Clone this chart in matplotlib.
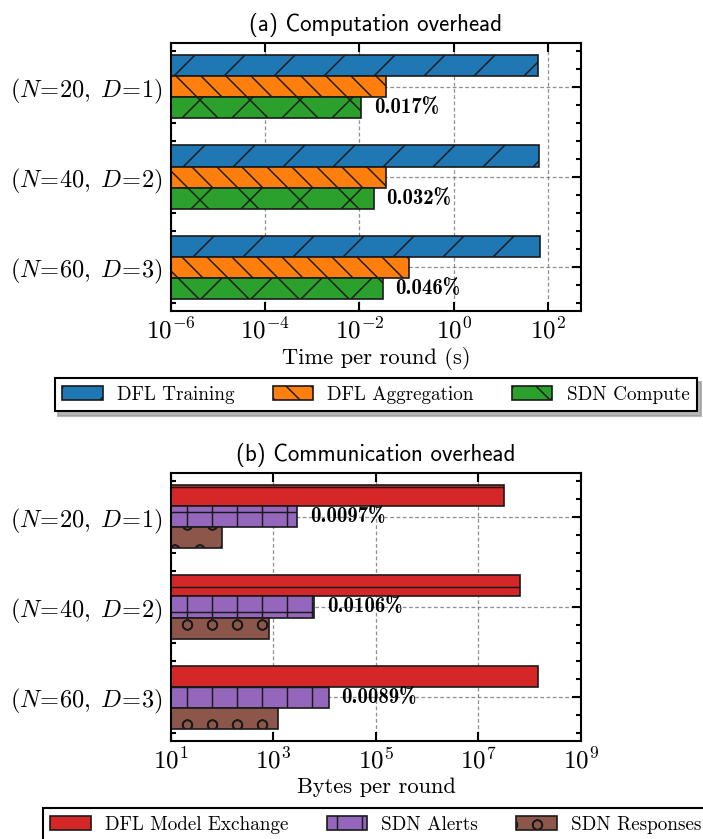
import numpy as np
import matplotlib
matplotlib.use("Agg")
import matplotlib.pyplot as plt
from matplotlib.ticker import FixedLocator, NullLocator, AutoMinorLocator, FuncFormatter

# --- datos ---
grupos = [r'$(N\!=\!20,\;D\!=\!1)$', r'$(N\!=\!40,\;D\!=\!2)$', r'$(N\!=\!60,\;D\!=\!3)$']

# (a) tiempo por ronda (s)
dfl_training = [62.0, 63.0, 66.0]
dfl_aggregation = [0.037, 0.036, 0.11]
sdn_compute = [0.011, 0.020, 0.031]
pct_compute = ['0.017%', '0.032%', '0.046%']

# (b) bytes por ronda
dfl_exchange = [3.1e7, 6.6e7, 1.45e8]
sdn_alerts = [2900, 6300, 12000]
sdn_responses = [97, 805, 1210]
pct_comm = ['0.0097%', '0.0106%', '0.0089%']

plt.rcParams['font.family'] = 'serif'
plt.rcParams['font.serif'] = ['cmr10']
plt.rcParams['mathtext.fontset'] = 'cm'
plt.rcParams['axes.formatter.use_mathtext'] = True
plt.rcParams['hatch.linewidth'] = 0.35
plt.rcParams['axes.linewidth'] = 0.5

fig = plt.figure(figsize=(703 / 300, 839 / 300), dpi=300)
ax1 = fig.add_axes([0.2432, 0.6293, 0.5832, 0.3194])
ax2 = fig.add_axes([0.2432, 0.1168, 0.5832, 0.3194])

y = np.arange(len(grupos))
h = 0.7 / 3


def estilo(ax, xlim, xticks, xlabel, title):
    ax.set_xscale('log')
    ax.set_xlim(*xlim)
    ax.invert_yaxis()
    ax.set_yticks(y)
    ax.set_yticklabels(grupos, fontsize=5.85)
    ax.yaxis.set_minor_locator(AutoMinorLocator(5))
    ax.xaxis.set_major_locator(FixedLocator(xticks))
    ax.xaxis.set_minor_locator(NullLocator())
    ax.xaxis.set_major_formatter(FuncFormatter(lambda v, p: r'$10^{%d}$' % round(np.log10(v))))
    ax.tick_params(axis='x', labelsize=6, pad=1.5)
    ax.tick_params(axis='y', pad=2)
    ax.tick_params(which='both', direction='in', top=True, right=True, width=0.5)
    ax.tick_params(which='major', length=2.2)
    ax.tick_params(which='minor', length=1.1)
    ax.grid(True, which='major', linestyle=(0, (3, 2)), linewidth=0.3, color='0.45', alpha=0.8)
    ax.set_axisbelow(True)
    ax.set_xlabel(xlabel, fontsize=5.4, labelpad=1)
    ax.set_title(title, fontfamily='cmss10', fontsize=5.5, pad=3)


def leyenda(ax):
    leg = ax.legend(loc='upper center', bbox_to_anchor=(0.5, -0.25), ncol=3, fontsize=4.6,
                    frameon=True, fancybox=False, edgecolor='black', framealpha=1,
                    shadow={'ox': 0.9, 'oy': -1.0, 'color': '0.6', 'alpha': 0.7},
                    handlelength=2.1, handleheight=0.75, handletextpad=0.75,
                    columnspacing=2.0, borderpad=0.4, borderaxespad=0)
    leg.get_frame().set_linewidth(0.5)


kw = dict(height=h, edgecolor='0.1', linewidth=0.4)

# --- (a) cómputo ---
ax1.barh(y - h, dfl_training, color='#1f77b4', hatch='//', label='DFL Training', **kw)
ax1.barh(y, dfl_aggregation, color='#ff7f0e', hatch='\\\\\\\\', label='DFL Aggregation', **kw)
ax1.barh(y + h, sdn_compute, color='#2ca02c', hatch='xx', label='SDN Compute', **kw)
for yi, v, t in zip(y, sdn_compute, pct_compute):
    ax1.annotate(t, (v, yi + h), xytext=(3, 0), textcoords='offset points',
                 ha='left', va='center', fontsize=5, fontfamily='cmb10')
estilo(ax1, (1e-6, 5e2), [1e-6, 1e-4, 1e-2, 1e0, 1e2], 'Time per round (s)',
       '(a) Computation overhead')
leyenda(ax1)

# --- (b) comunicación ---
ax2.barh(y - h, dfl_exchange, color='#d62728', hatch='--', label='DFL Model Exchange', **kw)
ax2.barh(y, sdn_alerts, color='#9467bd', hatch='++', label='SDN Alerts', **kw)
ax2.barh(y + h, sdn_responses, color='#8c564b', hatch='oo', label='SDN Responses', **kw)
for yi, v, t in zip(y, sdn_alerts, pct_comm):
    ax2.annotate(t, (v, yi), xytext=(3, 0), textcoords='offset points',
                 ha='left', va='center', fontsize=5, fontfamily='cmb10')
estilo(ax2, (1e1, 1e9), [1e1, 1e3, 1e5, 1e7, 1e9], 'Bytes per round',
       '(b) Communication overhead')
leyenda(ax2)

fig.savefig('out.png', dpi=300)
